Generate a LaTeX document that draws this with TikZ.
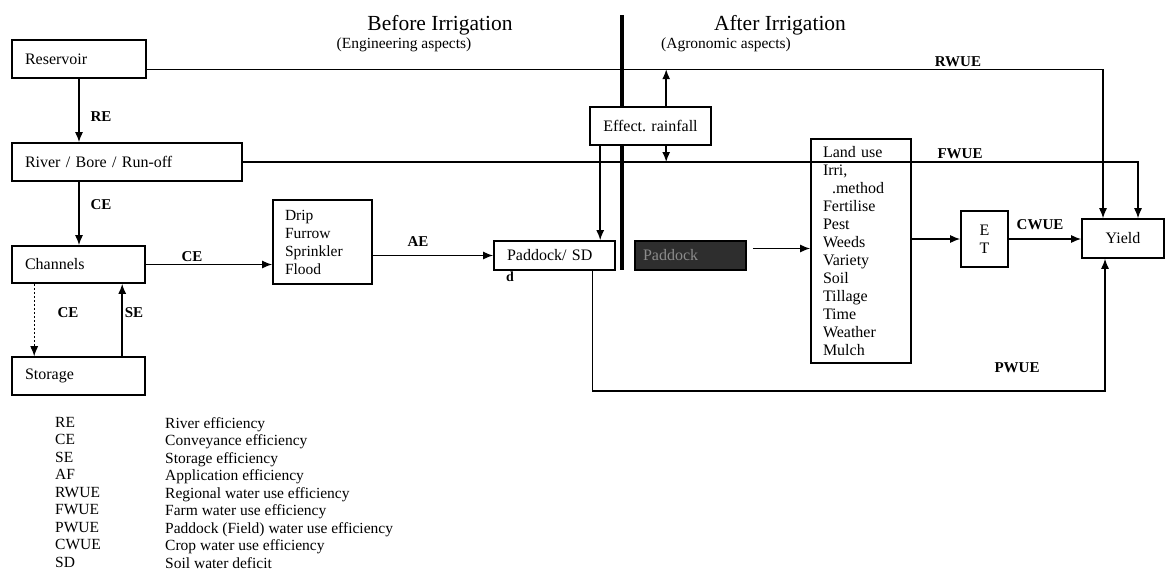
\documentclass[tikz,border=0pt]{standalone}
\usepackage{fontspec}
\setmainfont{Liberation Serif}
\usetikzlibrary{arrows.meta,calc}
\newcommand{\fsz}[2]{\fontsize{#1}{#2}\selectfont}
\begin{document}
\begin{tikzpicture}[x=1pt,y=-1pt,
  box/.style={draw, line width=1.6pt, fill=white, inner sep=0pt, font=\fsz{16}{18}},
  conn/.style={line width=1.5pt, -{Latex[length=10pt,width=8pt]}},
  flow/.style={line width=1.2pt},
  lab/.style={font=\fsz{15}{16}\bfseries, inner sep=0pt},
  legend/.style={font=\fsz{15.5}{17.5}, inner sep=0pt, align=left, anchor=north west},
  title/.style={font=\fsz{21.5}{23}, inner sep=0pt},
  subtitle/.style={font=\fsz{15.5}{16}, inner sep=0pt}
]
\useasboundingbox (0,0) rectangle (1166,571);
\fill[white] (0,0) rectangle (1166,571);

% titles
\node[title] (tb) at (440,25) {Before Irrigation};
\node[subtitle] (sb) at (404,45) {(Engineering aspects)};
\node[title] (ta) at (780,25) {After Irrigation};
\node[subtitle] (sa) at (726,45) {(Agronomic aspects)};

% divider
\coordinate (dvt) at (622,15);
\coordinate (dvb) at (622,270);
\draw[line width=3.5pt] (dvt) -- (dvb);

% helper coordinates
\coordinate (xF) at (1138,0);
\coordinate (xR) at (1103,0);
\coordinate (xP) at (1105,0);
\coordinate (yP) at (0,391);

% boxes
\node[box, minimum width=134pt, minimum height=38pt, text width=108pt, align=left] (res) at (79,59) {Reservoir};
\node[box, minimum width=230pt, minimum height=38pt, text width=204pt, align=left] (riv) at (127,162) {River / Bore / Run-off};
\node[box, minimum width=133pt, minimum height=37pt, text width=107pt, align=left] (ch) at (78.5,264.5) {Channels};
\node[box, minimum width=133pt, minimum height=38pt, text width=107pt, align=left] (st) at (78.5,376) {Storage};
\node[box, font=\fsz{15.5}{18}, minimum width=99pt, minimum height=84pt, text width=75pt, align=left] (drip) at (322.5,242) {Drip\\Furrow\\Sprinkler\\Flood};
\node[box, minimum width=121pt, minimum height=29pt, text width=95pt, align=left] (pad) at (554.5,255.5) {Paddock/ SD};
\node[font=\fsz{14}{16}\bfseries, inner sep=0pt] (padd) at (510,277) {d};
\node[box, minimum width=121pt, minimum height=38pt, align=center] (eff) at (650.5,126) {Effect. rainfall};
\node[box, fill=black!82, draw=black, minimum width=111pt, minimum height=29pt, text=black!45, text width=95pt, align=left] (dark) at (690.5,255.5) {Paddock};
\node[box, minimum width=100pt, minimum height=224pt, text width=76pt, align=left] (land) at (861,251) {Land use\\Irri,\\\hspace*{9pt}.method\\Fertilise\\Pest\\Weeds\\Variety\\Soil\\Tillage\\Time\\Weather\\Mulch};
\node[box, minimum width=47pt, minimum height=56pt, align=center] (et) at (984.5,239) {E\\T};
\node[box, minimum width=82pt, minimum height=39pt, align=center] (yld) at (1123,238.5) {Yield};

% engineering connectors
\draw[conn] (res.south) -- (res.south |- riv.north);
\draw[conn] (res.south |- riv.south) -- (res.south |- ch.north);
\coordinate (c1) at ($(ch.south west)+(23,0)$);
\draw[line width=0.9pt, dashed, dash pattern=on 2pt off 2pt, -{Latex[length=10pt,width=8pt]}] (c1) -- (c1 |- st.north);
\coordinate (s1) at ($(st.north west)+(111,0)$);
\draw[conn] (s1) -- (s1 |- ch.south);
\draw[conn] (ch.east) -- (ch.east -| drip.west);
\draw[conn] (pad.west -| drip.east) -- (pad.west);

% rainfall connectors
\coordinate (e1) at ($(eff.south west)+(11,0)$);
\draw[conn] (e1) -- (e1 |- pad.north);
\coordinate (rwA) at ($(res.north east)+(0,30)$);
\coordinate (e2) at ($(eff.north west)+(77,0)$);
\draw[conn] (e2) -- (e2 |- rwA);
\draw[conn] (e2 |- eff.south) -- (e2 |- riv.east);

% efficiency paths
\draw[flow, -{Latex[length=10pt,width=8pt]}] (rwA) -- (xR |- rwA) -- (xR |- yld.north);
\draw[flow, -{Latex[length=10pt,width=8pt]}] (riv.east) -- (xF |- riv.east) -- (xF |- yld.north);
\coordinate (p1) at ($(pad.south west)+(99,0)$);
\draw[flow, -{Latex[length=10pt,width=8pt]}] (p1) -- (p1 |- yP) -- (xP |- yP) -- (xP |- yld.south);

% agronomic connectors
\coordinate (d1) at ($(dark.east)+(6,-7)$);
\draw[conn] (d1) -- (d1 -| land.west);
\draw[conn] (et.west -| land.east) -- (et.west);
\draw[conn] (et.east) -- (et.east -| yld.west);

% labels
\node[lab] (lRE) at (101,117) {RE};
\node[lab] (lCE1) at (101,205) {CE};
\node[lab] (lCE2) at (68,313) {CE};
\node[lab] (lSE) at (134,313) {SE};
\node[lab] (lCE3) at (192,257) {CE};
\node[lab] (lAE) at (418,242) {AE};
\node[lab] (lRW) at (958,62) {RWUE};
\node[lab] (lFW) at (960,154) {FWUE};
\node[lab] (lCW) at (1040,225) {CWUE};
\node[lab] (lPW) at (1017,368) {PWUE};

% legend
\node[legend] (legA) at (55,417) {RE\\CE\\SE\\AF\\RWUE\\FWUE\\PWUE\\CWUE\\SD};
\node[legend] (legB) at (165,417) {River efficiency\\Conveyance efficiency\\Storage efficiency\\Application efficiency\\Regional water use efficiency\\Farm water use efficiency\\Paddock (Field) water use efficiency\\Crop water use efficiency\\Soil water deficit};
\end{tikzpicture}
\end{document}
